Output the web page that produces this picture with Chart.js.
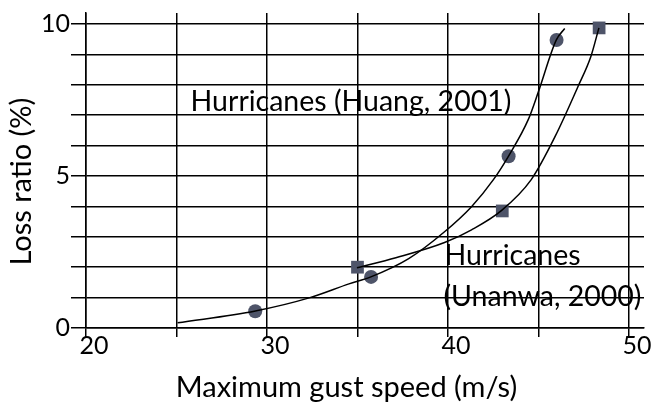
<!DOCTYPE html>
<html>
<head>
<meta charset="utf-8">
<script src="https://cdn.jsdelivr.net/npm/chart.js@4.4.1/dist/chart.umd.min.js"></script>
<style>
  html, body { margin: 0; padding: 0; background: #fff; }
  #wrap { width: 653px; height: 405px; }
</style>
</head>
<body>
<div id="wrap"><canvas id="lossChart" width="653" height="405"></canvas></div>
<script>
  // points
  const huangCurveX = [25.06, 29.36, 32.33, 34.53, 35.74, 37.83, 39.76, 41.30, 42.51, 43.33, 44.44, 44.99, 45.98, 46.45];
  const huangCurveY = [0.17, 0.56, 0.99, 1.45, 1.68, 2.28, 3.14, 3.99, 4.88, 5.64, 6.86, 7.76, 9.47, 9.85];
  const unanwaCurveX = [34.97, 37.12, 39.81, 41.30, 42.95, 44.60, 45.92, 47.19, 47.90, 48.34];
  const unanwaCurveY = [1.98, 2.31, 2.81, 3.23, 3.86, 4.88, 6.30, 7.95, 8.94, 9.87];

  // observed points
  const huangX = [29.35, 35.75, 43.35, 46.0];
  const huangY = [0.55, 1.68, 5.65, 9.47];
  const unanwaX = [35.0, 43.0, 48.35];
  const unanwaY = [2.0, 3.85, 9.87];

  const xLabels = [20, 30, 40, 50];
  const yLabels = [0, 5, 10];

  const fontFam = 'Lato, "Open Sans", sans-serif';
  const markColor = '#4e5469';

  function pts(xs, ys) {
    return xs.map(function (x, i) { return { x: x, y: ys[i] }; });
  }

  // text labels placed in data coordinates
  const notes = [
    { text: 'Hurricanes (Huang, 2001)', x: 25.78, y: 7.13 },
    { text: 'Hurricanes', x: 39.81, y: 2.08 },
    { text: '(Unanwa, 2000)', x: 39.75, y: 0.73 }
  ];

  const notePlugin = {
    id: 'notes',
    afterDatasetsDraw: function (chart) {
      const ctx = chart.ctx;
      const xs = chart.scales.x, ys = chart.scales.y;
      ctx.save();
      ctx.font = '28.5px ' + fontFam;
      ctx.fillStyle = '#000';
      ctx.textAlign = 'left';
      ctx.textBaseline = 'alphabetic';
      notes.forEach(function (n) {
        ctx.fillText(n.text, xs.getPixelForValue(n.x), ys.getPixelForValue(n.y));
      });
      ctx.restore();
    }
  };

  var ctxEl = document.getElementById('lossChart');

  new Chart(ctxEl, {
    type: 'scatter',
    data: {
      datasets: [
        {
          label: 'Huang curve',
          data: pts(huangCurveX, huangCurveY),
          showLine: true,
          borderColor: '#000',
          borderWidth: 1.5,
          pointRadius: 0,
          cubicInterpolationMode: 'monotone'
        },
        {
          label: 'Unanwa curve',
          data: pts(unanwaCurveX, unanwaCurveY),
          showLine: true,
          borderColor: '#000',
          borderWidth: 1.5,
          pointRadius: 0,
          cubicInterpolationMode: 'monotone'
        },
        {
          label: 'Hurricanes (Huang, 2001)',
          data: pts(huangX, huangY),
          pointStyle: 'circle',
          pointRadius: 7,
          backgroundColor: markColor,
          borderColor: markColor,
          borderWidth: 0
        },
        {
          label: 'Hurricanes (Unanwa, 2000)',
          data: pts(unanwaX, unanwaY),
          pointStyle: 'rect',
          pointRadius: 9,
          backgroundColor: markColor,
          borderColor: markColor,
          borderWidth: 0
        }
      ]
    },
    options: {
      responsive: false,
      animation: false,
      layout: { padding: { left: 0, right: 7, top: 13, bottom: 0 } },
      plugins: {
        legend: { display: false },
        tooltip: { enabled: false }
      },
      scales: {
        x: {
          type: 'linear',
          min: 20,
          max: 50.83,
          grid: { color: '#000', lineWidth: 1.5, tickLength: 9, tickColor: '#000' },
          border: { color: '#000', width: 1.5 },
          ticks: {
            stepSize: 5,
            includeBounds: false,
            autoSkip: false,
            maxRotation: 0,
            labelOffset: 8,
            padding: -6,
            color: '#000',
            font: { family: fontFam, size: 25 },
            callback: function (value) {
              return xLabels.indexOf(value) >= 0 ? value : '';
            }
          },
          title: {
            display: true,
            // trailing spaces nudge the centred title a little left
            text: 'Maximum gust speed (m/s)     ',
            color: '#000',
            font: { family: fontFam, size: 29 },
            padding: { top: 0, bottom: 0 }
          },
          afterFit: function (scale) {
            scale.height = 77;
            scale.paddingLeft = 0;
            scale.paddingRight = 0;
          }
        },
        y: {
          type: 'linear',
          min: 0,
          max: 10.36,
          grid: { color: '#000', lineWidth: 1.5, tickLength: 15, tickColor: '#000' },
          border: { color: '#000', width: 1.5 },
          ticks: {
            stepSize: 1,
            includeBounds: false,
            autoSkip: false,
            padding: 1,
            color: '#000',
            font: { family: fontFam, size: 25 },
            callback: function (value) {
              return yLabels.indexOf(value) >= 0 ? value : '';
            }
          },
          title: {
            display: true,
            text: 'Loss ratio (%)   ',
            color: '#000',
            font: { family: fontFam, size: 29 },
            padding: { top: 4, bottom: 0 }
          },
          afterFit: function (scale) {
            scale.width = 86;
            scale.paddingTop = 0;
            scale.paddingBottom = 0;
          }
        }
      }
    },
    plugins: [notePlugin]
  });
</script>
</body>
</html>
